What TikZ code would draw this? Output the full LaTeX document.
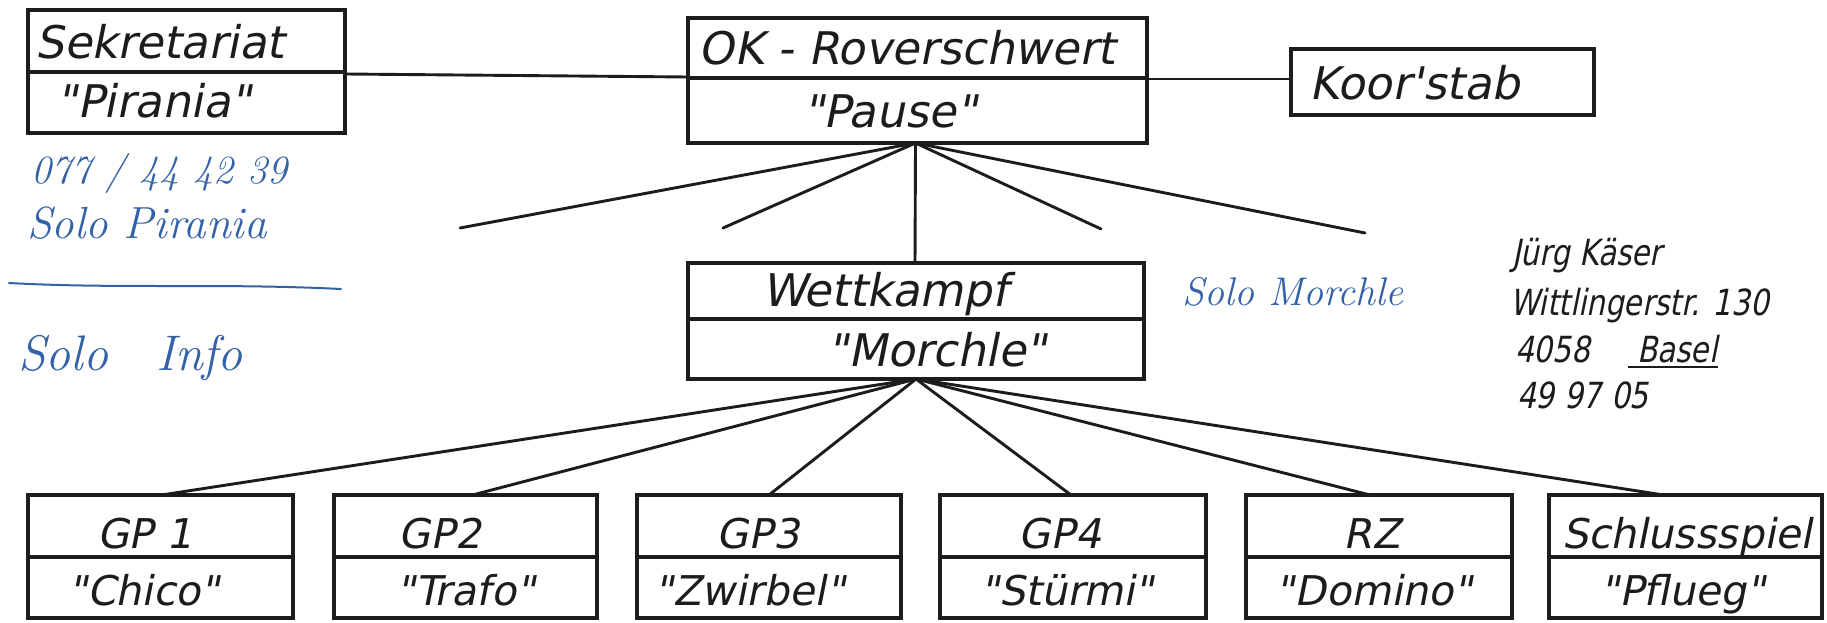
\documentclass[tikz,border=0pt]{standalone}
\usepackage{fontspec}
\usetikzlibrary{fit}
\newfontfamily\stencil{DejaVu Sans}[FakeSlant=0.2]
\newfontfamily\stencilnarrow{DejaVu Sans}[FakeSlant=0.2,FakeStretch=0.82]
\definecolor{ink}{RGB}{28,28,28}
\definecolor{biro}{RGB}{52,98,168}

\tikzset{
  frame/.style={draw=ink, line width=3.6pt, inner sep=0pt, outer sep=0pt},
  rule/.style={draw=ink, line width=3.4pt},
  wire/.style={draw=ink, line width=2.9pt, line cap=round},
  title/.style={inner sep=0pt, text=ink, text height=33pt, text depth=0pt,
    font=\stencil\fontsize{45}{45}\selectfont},
  unit/.style={title, text height=30pt, font=\stencil\fontsize{41}{41}\selectfont},
  address/.style={inner sep=0pt, anchor=base west, text=ink,
    font=\stencilnarrow\fontsize{36}{36}\selectfont},
  note/.style={inner sep=0pt, anchor=base west, text=biro,
    font=\itshape\fontsize{45}{45}\selectfont},
}

% frame with a horizontal divider: name, x1, y1, x2, y2, divider y
\newcommand\orgframe[6]{%
  \node[frame, fit={(#2,#3) (#4,#5)}] (#1) {};
  \draw[rule] (#2,#6) -- (#4,#6);
}

\begin{document}
\begin{tikzpicture}[x=1pt, y=-1pt]
\useasboundingbox[fill=white] (0,0) rectangle (1827,623);

% --- frames ---
\orgframe{sek}{28}{10}{345}{133}{72}
\orgframe{ok}{688}{18}{1147}{143}{78}
\node[frame, fit={(1291,49) (1594,115)}] (koor) {};
\orgframe{wk}{688}{263}{1144}{379}{319}
\orgframe{gp1}{28}{495}{293}{618}{557}
\orgframe{gp2}{334}{495}{597}{618}{557}
\orgframe{gp3}{637}{495}{901}{618}{557}
\orgframe{gp4}{940}{495}{1206}{618}{557}
\orgframe{rz}{1246}{495}{1512}{618}{557}
\orgframe{sp}{1549}{495}{1822}{618}{557}

% --- labels ---
\node[title] (sek-a) at (160,42) {Sekretariat};
\node[title] (sek-b) at (154,101) {"Pirania"};
\node[title] (ok-a) at (907,48) {OK - Roverschwert};
\node[title] (ok-b) at (890,111) {"Pause"};
\node[title] (koor-a) at (1415,83) {Koor'stab};
\node[title] (wk-a) at (885,290) {Wettkampf};
\node[title] (wk-b) at (937,350) {"Morchle"};

\node[unit] (gp1-a) at (145,533) {GP 1};
\node[unit] (gp1-b) at (144,590) {"Chico"};
\node[unit] (gp2-a) at (440,533) {GP2};
\node[unit] (gp2-b) at (466,590) {"Trafo"};
\node[unit] (gp3-a) at (758,533) {GP3};
\node[unit] (gp3-b) at (750,590) {"Zwirbel"};
\node[unit] (gp4-a) at (1060,533) {GP4};
\node[unit] (gp4-b) at (1067,590) {"Stürmi"};
\node[unit] (rz-a) at (1372,533) {RZ};
\node[unit] (rz-b) at (1374,590) {"Domino"};
\node[unit] (sp-a) at (1687,533) {Schlussspiel};
\node[unit] (sp-b) at (1683,590) {"Pflueg"};

% --- staff links ---
\draw[wire] ([yshift=-2.5pt]sek.east) -- ([yshift=3.5pt]ok.west);
\draw[wire] ([yshift=1.5pt]ok.east) -- ([yshift=3pt]koor.west);

% --- open branches below the OK ---
\coordinate (b1) at (460,228);
\coordinate (b2) at (723,228);
\coordinate (b3) at (1101,229);
\coordinate (b4) at (1365,233);
\foreach \b in {b1,b2,b3,b4} \draw[wire] ([xshift=-2pt]ok.south) -- (\b);
\draw[wire] ([xshift=-2pt]ok.south) -- ([xshift=-1pt]wk.north);

% --- groups under the Wettkampf ---
\draw[wire] (wk.south) -- ([xshift=1pt]gp1.north);
\draw[wire] (wk.south) -- ([xshift=7pt]gp2.north);
\draw[wire] (wk.south) -- (gp3.north);
\draw[wire] (wk.south) -- ([xshift=-2pt]gp4.north);
\draw[wire] (wk.south) -- ([xshift=-9pt]rz.north);
\draw[wire] (wk.south) -- ([xshift=-22pt]sp.north);

% --- pen notes ---
\node[note, font=\itshape\fontsize{40}{40}\selectfont] (tel) at (31,183) {077 / 44 42 39};
\node[note] (solo-p) at (27,238) {Solo Pirania};
\draw[biro, line width=2pt, line cap=round] (9,283) .. controls (120,289) and (220,283) .. (341,289);
\node[note, font=\itshape\fontsize{50}{50}\selectfont] (solo-i) at (18,370) {Solo\hspace{48pt}Info};
\node[note, font=\itshape\fontsize{40}{40}\selectfont] (solo-m) at (1182,305) {Solo Morchle};

% --- address ---
\node[address] (name) at (1512,265) {Jürg Käser};
\node[address] (street) at (1510,315) {Wittlingerstr. 130};
\node[address] (zip) at (1515,362) {4058};
\node[address] (city) at (1637,362) {Basel};
\draw[ink, line width=1.8pt] ([xshift=-9pt,yshift=-5pt]city.base west) -- ([yshift=-5pt]city.base east);
\node[address] (phone) at (1517,408) {49 97 05};
\end{tikzpicture}
\end{document}
